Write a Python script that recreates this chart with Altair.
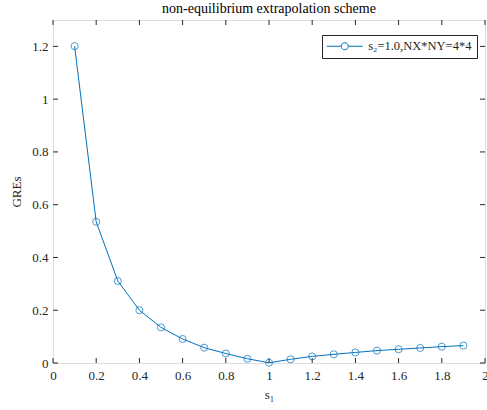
import altair as alt
import pandas as pd

s1 = [0.1, 0.2, 0.3, 0.4, 0.5, 0.6, 0.7, 0.8, 0.9, 1.0,
      1.1, 1.2, 1.3, 1.4, 1.5, 1.6, 1.7, 1.8, 1.9]
gres = [1.201, 0.535, 0.311, 0.200, 0.135, 0.091, 0.058, 0.036, 0.016, 0.001,
        0.014, 0.025, 0.033, 0.040, 0.047, 0.052, 0.057, 0.062, 0.066]
series_name = "s\u2082=1.0,NX*NY=4*4"
x_ticks = [0, 0.2, 0.4, 0.6, 0.8, 1.0, 1.2, 1.4, 1.6, 1.8, 2.0]
y_ticks = [0, 0.2, 0.4, 0.6, 0.8, 1.0, 1.2]

W, H = 432, 343
FONT = "'Times New Roman', 'Liberation Serif', Times, serif"
BLUE = "#0072BD"
AX = "#262626"

df = pd.DataFrame({"s1": s1, "gres": gres, "series": series_name})
xt = pd.DataFrame({"t": x_ticks})
yt = pd.DataFrame({"t": y_ticks})

xs = alt.Scale(domain=[0, 2], nice=False, zero=False)
ys = alt.Scale(domain=[0, 1.3], nice=False, zero=False)

xaxis = alt.Axis(values=x_ticks, title="s\u2081", domain=False, ticks=False, grid=False,
                 format="~g",
                 labelFont=FONT, labelFontSize=13, labelColor=AX, labelPadding=6,
                 titleFont=FONT, titleFontSize=13, titleColor=AX, titleFontWeight="normal",
                 titlePadding=6, labelFlush=False)
yaxis = alt.Axis(values=y_ticks, title="GREs", domain=False, ticks=False, grid=False,
                 format="~g",
                 labelFont=FONT, labelFontSize=13, labelColor=AX, labelPadding=5,
                 titleFont=FONT, titleFontSize=13, titleColor=AX, titleFontWeight="normal",
                 titlePadding=8, labelFlush=False)

sym_path = ("M-1.857,0L2.286,0M4.286,0L8.43,0"
            "M4.286,0A1,1,0,1,1,2.286,0A1,1,0,1,1,4.286,0")

line = alt.Chart(df).mark_line(strokeWidth=1, clip=False).encode(
    x=alt.X("s1:Q", scale=xs, axis=xaxis),
    y=alt.Y("gres:Q", scale=ys, axis=yaxis),
    color=alt.Color("series:N", scale=alt.Scale(range=[BLUE]),
                    legend=alt.Legend(title=None, orient="none", legendX=269, legendY=15,
                                      symbolType=sym_path, symbolSize=49,
                                      symbolStrokeWidth=1, symbolFillColor="transparent",
                                      labelFont=FONT, labelFontSize=12.5, labelColor=AX,
                                      labelOffset=28.7, padding=5,
                                      strokeColor=AX, fillColor="white",
                                      labelLimit=300)),
)
pts = alt.Chart(df).mark_point(shape="circle", filled=False, size=50, strokeWidth=1,
                               color=BLUE, clip=False).encode(
    x=alt.X("s1:Q", scale=xs),
    y=alt.Y("gres:Q", scale=ys),
)

tk = 5
xb = alt.Chart(xt).mark_rule(color=AX, strokeWidth=1).encode(
    x=alt.X("t:Q", scale=xs), y=alt.value(H), y2=alt.value(H - tk))
xtp = alt.Chart(xt).mark_rule(color=AX, strokeWidth=1).encode(
    x=alt.X("t:Q", scale=xs), y=alt.value(0), y2=alt.value(tk))
yl = alt.Chart(yt).mark_rule(color=AX, strokeWidth=1).encode(
    y=alt.Y("t:Q", scale=ys), x=alt.value(0), x2=alt.value(tk))
yr = alt.Chart(yt).mark_rule(color=AX, strokeWidth=1).encode(
    y=alt.Y("t:Q", scale=ys), x=alt.value(W), x2=alt.value(W - tk))

chart = alt.layer(xb, xtp, yl, yr, line, pts).properties(
    width=W, height=H,
    title=alt.Title("non-equilibrium extrapolation scheme", font=FONT, fontSize=14,
                    fontWeight="normal", color="black", offset=4),
    autosize=alt.AutoSizeParams(type="none"),
    padding={"left": 53, "top": 20, "right": 2, "bottom": 47},
).configure_view(stroke=AX, strokeWidth=1).configure(background="white")

chart.save("out.html", embed_options={"renderer": "svg", "actions": False})
